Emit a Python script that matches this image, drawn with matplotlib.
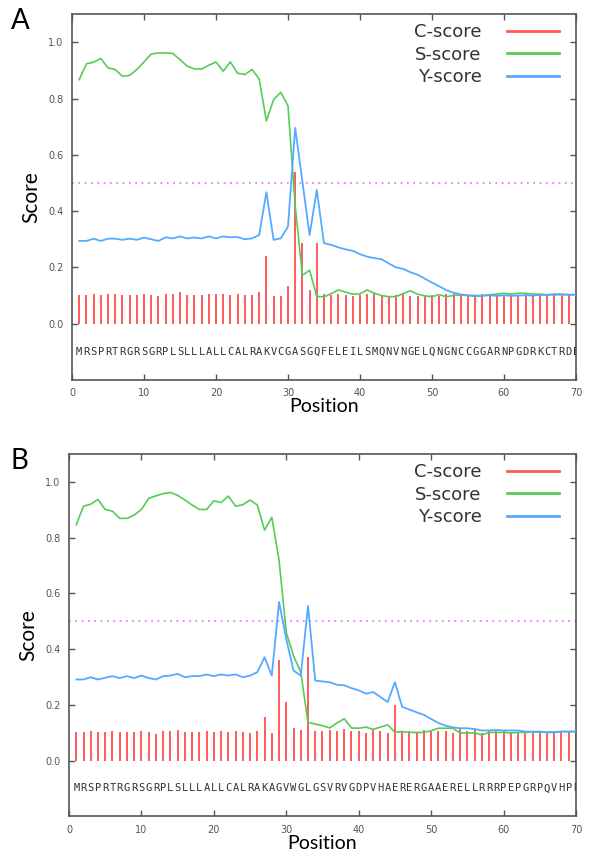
import numpy as np
import matplotlib
matplotlib.use("Agg")
import matplotlib.pyplot as plt

positions = np.arange(1, 71)

seq_a = "MRSPRTRGRSGRPLSLLLALLCALRAKVCGASGQFELEILSMQNVNGELQNGNCCGGARNPGDRKCTRDE"
seq_b = "MRSPRTRGRSGRPLSLLLALLCALRAKAGVWGLGSVRVGDPVHAERERGAAERELLRRRPEPGRPQVHPR"

# panel A
c_a = [0.101, 0.101, 0.107, 0.101, 0.105, 0.107, 0.101, 0.103, 0.101, 0.107,
       0.101, 0.099, 0.107, 0.105, 0.111, 0.101, 0.103, 0.103, 0.107, 0.105,
       0.107, 0.103, 0.107, 0.101, 0.101, 0.113,
       0.24, 0.097, 0.10, 0.135, 0.54, 0.285, 0.12, 0.285,
       0.107, 0.103, 0.105, 0.103, 0.1, 0.103, 0.105, 0.11, 0.1, 0.1,
       0.103, 0.105, 0.1, 0.1, 0.103, 0.103, 0.1, 0.105, 0.105, 0.107,
       0.103, 0.1, 0.105, 0.103, 0.103, 0.1, 0.105, 0.1, 0.105, 0.103,
       0.103, 0.103, 0.103, 0.103, 0.103, 0.103]
s_a = [0.867, 0.923, 0.929, 0.942, 0.909, 0.903, 0.879, 0.882, 0.903, 0.93,
       0.958, 0.962, 0.962, 0.96, 0.938, 0.915, 0.905, 0.905, 0.918, 0.93,
       0.897, 0.93, 0.89,
       0.885, 0.903, 0.87, 0.72, 0.796, 0.822, 0.774, 0.42, 0.172, 0.19, 0.097,
       0.095, 0.107, 0.12, 0.112, 0.105, 0.106, 0.12, 0.108, 0.1, 0.096,
       0.096, 0.107, 0.117, 0.105, 0.099, 0.096, 0.103, 0.096, 0.1, 0.102,
       0.1, 0.097, 0.1, 0.103, 0.105, 0.108, 0.105, 0.108, 0.108, 0.105,
       0.105, 0.103, 0.105, 0.105, 0.103, 0.103]
y_a = [0.294, 0.294, 0.302, 0.294, 0.302, 0.302, 0.298, 0.302, 0.298, 0.306,
       0.3, 0.294, 0.307, 0.303, 0.31, 0.303, 0.306, 0.303, 0.31, 0.303,
       0.31, 0.307, 0.308, 0.3, 0.303, 0.315,
       0.467, 0.298, 0.303, 0.345, 0.696, 0.505, 0.315, 0.475,
       0.286, 0.28, 0.271, 0.264, 0.259, 0.247, 0.238, 0.233, 0.229, 0.214,
       0.2, 0.195, 0.183, 0.174, 0.16, 0.146, 0.133, 0.119, 0.11, 0.104,
       0.101, 0.1, 0.099, 0.101, 0.099, 0.101, 0.099, 0.1, 0.101, 0.1,
       0.102, 0.102, 0.103, 0.103, 0.103, 0.103]

# panel B
c_b = [0.101, 0.101, 0.107, 0.101, 0.103, 0.107, 0.101, 0.103, 0.101, 0.107,
       0.101, 0.097, 0.107, 0.107, 0.109, 0.101, 0.103, 0.103, 0.107, 0.103,
       0.107, 0.103, 0.107, 0.101, 0.1, 0.107,
       0.155, 0.1, 0.36, 0.21, 0.118, 0.11, 0.37, 0.107,
       0.107, 0.11, 0.105, 0.113, 0.107, 0.105, 0.1, 0.113, 0.107, 0.1,
       0.2, 0.107, 0.105, 0.1, 0.11, 0.105, 0.107, 0.107, 0.1, 0.115,
       0.107, 0.11, 0.1, 0.11, 0.105, 0.107, 0.103, 0.103, 0.105, 0.103,
       0.103, 0.103, 0.1, 0.105, 0.103, 0.103]
s_b = [0.846, 0.913, 0.92, 0.937, 0.901, 0.895, 0.869, 0.869, 0.881, 0.901,
       0.941, 0.95, 0.958, 0.962, 0.952, 0.935, 0.917, 0.901, 0.901, 0.932,
       0.926, 0.949,
       0.913, 0.918, 0.935, 0.917, 0.827, 0.873, 0.72, 0.46, 0.376, 0.317,
       0.137, 0.131,
       0.125, 0.117, 0.135, 0.15, 0.117, 0.116, 0.12, 0.112, 0.12, 0.128,
       0.102, 0.104, 0.101, 0.101, 0.101, 0.107, 0.116, 0.116, 0.116, 0.099,
       0.099, 0.099, 0.092, 0.101, 0.101, 0.101, 0.099, 0.101, 0.101, 0.102,
       0.102, 0.102, 0.103, 0.104, 0.104, 0.104]
y_b = [0.291, 0.291, 0.299, 0.291, 0.297, 0.303, 0.296, 0.303, 0.296, 0.305,
       0.296, 0.291, 0.303, 0.305, 0.311, 0.299, 0.303, 0.303, 0.309, 0.303,
       0.309, 0.305,
       0.309, 0.299, 0.305, 0.317, 0.371, 0.305, 0.569, 0.436, 0.323, 0.305,
       0.555, 0.287,
       0.284, 0.281, 0.272, 0.27, 0.26, 0.252, 0.24, 0.246, 0.228, 0.21,
       0.281, 0.193, 0.183, 0.173, 0.164, 0.149, 0.135, 0.125, 0.119, 0.116,
       0.116, 0.113, 0.108, 0.108, 0.11, 0.108, 0.108, 0.108, 0.104, 0.104,
       0.104, 0.101, 0.101, 0.104, 0.104, 0.104]

RED = "#ff5a5a"
GREEN = "#55cc55"
BLUE = "#55aaff"
FRAME = "#555555"


def draw_panel(ax, seq, c, s, y):
    ax.vlines(positions, 0, c, color=RED, linewidth=1.4, zorder=2)
    ax.plot(positions, s, color=GREEN, linewidth=1.2, zorder=3)
    ax.plot(positions, y, color=BLUE, linewidth=1.3, zorder=4)
    # 0.5 cutoff
    ax.plot([0, 70], [0.5, 0.5], color="#e27ef0", linestyle=(0, (1, 2.5)),
            linewidth=1.3, zorder=1)
    for p, ch in zip(positions, seq):
        ax.text(p, -0.1, ch, ha="center", va="center", fontsize=7.5,
                family="DejaVu Sans Mono", color="#333333", clip_on=True)

    ax.set_xlim(0, 70)
    ax.set_ylim(-0.2, 1.1)
    ax.set_xticks(range(0, 71, 10))
    ax.set_yticks([0.0, 0.2, 0.4, 0.6, 0.8, 1.0])
    ax.set_yticklabels(["0.0", "0.2", "0.4", "0.6", "0.8", "1.0"])
    ax.tick_params(direction="in", length=4, width=1, color=FRAME,
                   top=True, right=True, labelsize=7, labelcolor="#555555",
                   pad=6)
    for sp in ax.spines.values():
        sp.set_color(FRAME)
        sp.set_linewidth(1.2)

    ax.plot([], [], color=RED, linewidth=2, label="C-score")
    ax.plot([], [], color=GREEN, linewidth=2, label="S-score")
    ax.plot([], [], color=BLUE, linewidth=2, label="Y-score")
    handles, labels = ax.get_legend_handles_labels()
    ax.legend(handles[-3:], labels[-3:], loc="upper right",
              bbox_to_anchor=(0.967, 0.975), frameon=False, markerfirst=False,
              fontsize=13, handlelength=2.9, handletextpad=1.4,
              labelspacing=0.25, borderaxespad=0, borderpad=0,
              labelcolor="#333333")

    ax.set_ylabel("Score", fontsize=15, family="Lato", labelpad=5)
    ax.set_xlabel("Position", fontsize=14, family="Lato", labelpad=0)


fig = plt.figure(figsize=(5.95, 8.57), dpi=100)
ax_a = fig.add_axes([0.121, 0.5566, 0.847, 0.427])
ax_b = fig.add_axes([0.116, 0.0475, 0.852, 0.4227])

draw_panel(ax_a, seq_a, c_a, s_a, y_a)
draw_panel(ax_b, seq_b, c_b, s_b, y_b)

fig.text(0.018, 0.975, "A", fontsize=20, family="Lato", va="center")
fig.text(0.018, 0.462, "B", fontsize=20, family="Lato", va="center")

fig.savefig("out.png", dpi=100)
